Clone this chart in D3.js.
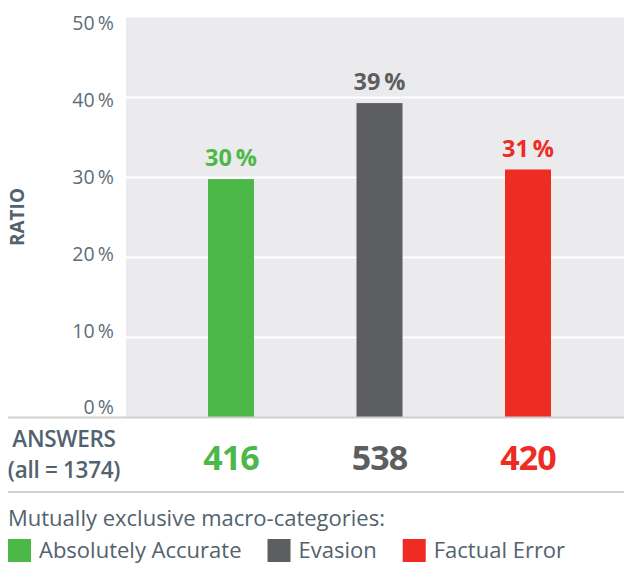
<!DOCTYPE html>
<html>
<head>
<meta charset="utf-8">
<script src="https://cdn.jsdelivr.net/npm/d3@7"></script>
<style>
  body { margin: 0; background: #fff; }
  svg { display: block; font-family: 'Open Sans', sans-serif; }
</style>
</head>
<body>
<svg width="624" height="568"></svg>
<script>
const categories = ['Absolutely Accurate', 'Evasion', 'Factual Error'];
const ratios = [29.8, 39.3, 31.0];
const ratioLabels = ['30\u2009%', '39\u2009%', '31\u2009%'];
const answers = [416, 538, 420];
const totalAnswers = 1374;
const yTicks = [0, 10, 20, 30, 40, 50];
const colors = ['#4cb848', '#5d5e60', '#ee2c24'];

const TEXT = '#52626e';
const plot = {left: 126, right: 624, top: 17.5, bottom: 417.5};

const svg = d3.select('svg');

const y = d3.scaleLinear().domain([0, 50]).range([plot.bottom, plot.top]);
// tick labels sit a little inside the top and bottom edges
const yLabel = d3.scaleLinear().domain([0, 50]).range([plot.bottom - 10, plot.top + 6]);
const x = d3.scalePoint().domain(categories).range([231, 528]);
const BAR_W = 46;

svg.append('rect')
  .attr('x', plot.left)
  .attr('y', plot.top)
  .attr('width', plot.right - plot.left)
  .attr('height', plot.bottom - plot.top)
  .attr('fill', '#ebebed');

svg.selectAll('.grid')
  .data(yTicks.filter(d => d > 0 && d < 50))
  .enter()
  .append('line')
  .attr('class', 'grid')
  .attr('x1', plot.left)
  .attr('x2', plot.right)
  .attr('y1', d => y(d))
  .attr('y2', d => y(d))
  .attr('stroke', '#fff')
  .attr('stroke-width', 2);

svg.selectAll('.tick-label')
  .data(yTicks)
  .enter()
  .append('text')
  .attr('class', 'tick-label')
  .attr('x', 114)
  .attr('y', d => yLabel(d))
  .attr('dy', '0.35em')
  .attr('text-anchor', 'end')
  .attr('font-size', 19.5)
  .attr('fill', '#5f6d78')
  .text(d => d + '\u2009%');

svg.append('text')
  .attr('transform', 'translate(24,217) rotate(-90)')
  .attr('text-anchor', 'middle')
  .attr('font-size', 19)
  .attr('font-weight', 700)
  .attr('fill', TEXT)
  .text('RATIO');

const bars = categories.map((c, i) => ({c, v: ratios[i], label: ratioLabels[i], n: answers[i], color: colors[i]}));

svg.selectAll('.bar')
  .data(bars)
  .enter()
  .append('rect')
  .attr('class', 'bar')
  .attr('x', d => x(d.c) - BAR_W / 2)
  .attr('y', d => y(d.v))
  .attr('width', BAR_W)
  .attr('height', d => y(0) - y(d.v))
  .attr('fill', d => d.color);

svg.selectAll('.value')
  .data(bars)
  .enter()
  .append('text')
  .attr('class', 'value')
  .attr('x', d => x(d.c))
  .attr('y', d => y(d.v) - 13)
  .attr('text-anchor', 'middle')
  .attr('font-size', 23.5)
  .attr('font-weight', 700)
  .attr('fill', d => d.color)
  .text(d => d.label);

// axis and separator lines
[plot.bottom, 492].forEach(ly => {
  svg.append('line')
    .attr('x1', 8).attr('x2', 624)
    .attr('y1', ly).attr('y2', ly)
    .attr('stroke', '#cfcfcf')
    .attr('stroke-width', 2);
});

// answers row
svg.append('text')
  .attr('x', 64).attr('y', 447)
  .attr('text-anchor', 'middle')
  .attr('font-size', 22.5)
  .attr('font-weight', 600)
  .attr('letter-spacing', -0.3)
  .attr('fill', TEXT)
  .text('ANSWERS');

svg.append('text')
  .attr('x', 64).attr('y', 478)
  .attr('text-anchor', 'middle')
  .attr('font-size', 22.5)
  .attr('font-weight', 600)
  .attr('letter-spacing', -0.3)
  .attr('fill', TEXT)
  .text('(all = ' + totalAnswers + ')');

svg.selectAll('.count')
  .data(bars)
  .enter()
  .append('text')
  .attr('class', 'count')
  .attr('x', d => x(d.c))
  .attr('y', 470)
  .attr('text-anchor', 'middle')
  .attr('font-size', 34)
  .attr('font-weight', 700)
  .attr('letter-spacing', -1)
  .attr('fill', d => d.color)
  .text(d => d.n);

// legend
svg.append('text')
  .attr('x', 8).attr('y', 526)
  .attr('font-size', 22)
  .attr('fill', TEXT)
  .text('Mutually exclusive macro-categories:');

let lx = 8;
bars.forEach(d => {
  const g = svg.append('g').attr('transform', 'translate(' + lx + ',539)');
  g.append('rect')
    .attr('width', 23).attr('height', 23)
    .attr('fill', d.color);
  const t = g.append('text')
    .attr('x', 31).attr('y', 19)
    .attr('font-size', 22)
    .attr('fill', TEXT)
    .text(d.c);
  lx += 31 + t.node().getComputedTextLength() + 26;
});
</script>
</body>
</html>
